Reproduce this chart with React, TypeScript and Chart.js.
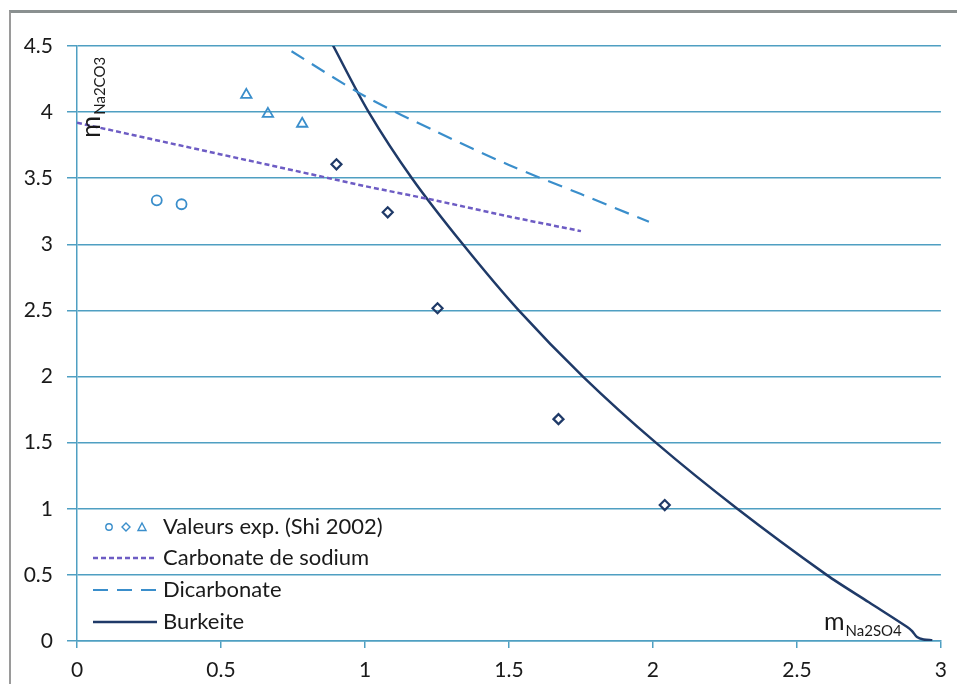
import React, { useEffect, useRef } from "react";
import { Chart, registerables } from "chart.js";

Chart.register(...registerables);

// ---- data ----
const circleX = [0.277, 0.363];
const circleY = [3.333, 3.303];
const triangleX = [0.588, 0.663, 0.782];
const triangleY = [4.13, 3.987, 3.912];
const diamondX = [0.901, 1.079, 1.252, 1.672, 2.041];
const diamondY = [3.605, 3.242, 2.517, 1.678, 1.028];

const carbonateX = [0, 0.25, 0.5, 0.75, 1.0, 1.25, 1.5, 1.75];
const carbonateY = [3.92, 3.8, 3.68, 3.56, 3.44, 3.33, 3.21, 3.1];

const dicarbonateX = [0.745, 1.0, 1.25, 1.5, 1.75, 1.986];
const dicarbonateY = [4.46, 4.12, 3.85, 3.6, 3.38, 3.17];

const burkeiteX = [0.862, 0.89, 1.013, 1.163, 1.34, 1.534, 1.757, 2.01, 2.293, 2.603, 2.75, 2.883, 2.9, 2.917, 2.94, 2.97];
const burkeiteY = [4.62, 4.5, 4.0, 3.5, 3.0, 2.5, 2.0, 1.5, 1.0, 0.5, 0.293, 0.106, 0.075, 0.03, 0.012, 0.005];

const xTicks = [0, 0.5, 1, 1.5, 2, 2.5, 3];
const yTicks = [0, 0.5, 1, 1.5, 2, 2.5, 3, 3.5, 4, 4.5];

const legendLabels = ["Valeurs exp. (Shi 2002)", "Carbonate de sodium", "Dicarbonate", "Burkeite"];

const LIGHT = "#3a8ecb";
const NAVY = "#1f3a68";
const PURPLE = "#6d5cc4";
const GRID = "#4f9fc2";
const TEXT = "#1a1a1a";
const FONT = "Lato, 'Liberation Sans', sans-serif";

const pts = (xs: number[], ys: number[]) => xs.map((x, i) => ({ x, y: ys[i] }));

const overlayPlugin = {
  id: "overlay",
  afterDraw(chart: any) {
    const ctx = chart.ctx as CanvasRenderingContext2D;
    ctx.save();
    // legend
    const lx0 = 93, lx1 = 157, tx = 163;
    const rows = [527, 558, 590, 622];
    ctx.font = `22px ${FONT}`;
    ctx.fillStyle = TEXT;
    ctx.textBaseline = "middle";
    legendLabels.forEach((t, i) => ctx.fillText(t, tx, rows[i]));
    // row 1 symbols
    ctx.lineWidth = 1.4;
    ctx.strokeStyle = LIGHT;
    ctx.beginPath();
    ctx.arc(109, rows[0], 3.2, 0, Math.PI * 2);
    ctx.stroke();
    ctx.beginPath();
    ctx.moveTo(126, rows[0] - 4);
    ctx.lineTo(130, rows[0]);
    ctx.lineTo(126, rows[0] + 4);
    ctx.lineTo(122, rows[0]);
    ctx.closePath();
    ctx.stroke();
    ctx.beginPath();
    ctx.moveTo(142, rows[0] - 4);
    ctx.lineTo(146, rows[0] + 3.5);
    ctx.lineTo(138, rows[0] + 3.5);
    ctx.closePath();
    ctx.stroke();
    // row 2
    ctx.lineWidth = 2.5;
    ctx.strokeStyle = PURPLE;
    ctx.setLineDash([5, 3]);
    ctx.beginPath();
    ctx.moveTo(lx0, rows[1]);
    ctx.lineTo(lx1, rows[1]);
    ctx.stroke();
    // row 3
    ctx.strokeStyle = LIGHT;
    ctx.lineWidth = 2.2;
    ctx.setLineDash([15, 9]);
    ctx.beginPath();
    ctx.moveTo(lx0, rows[2]);
    ctx.lineTo(lx1 + 2, rows[2]);
    ctx.stroke();
    // row 4
    ctx.setLineDash([]);
    ctx.strokeStyle = NAVY;
    ctx.lineWidth = 2.5;
    ctx.beginPath();
    ctx.moveTo(lx0, rows[3]);
    ctx.lineTo(lx1, rows[3]);
    ctx.stroke();

    // x-axis title
    ctx.fillStyle = TEXT;
    ctx.textBaseline = "alphabetic";
    ctx.font = `25px ${FONT}`;
    ctx.fillText("m", 824, 630);
    const mw = ctx.measureText("m").width;
    ctx.font = `15px ${FONT}`;
    ctx.fillText("Na2SO4", 824 + mw + 1, 636);

    // y-axis title (rotated)
    ctx.translate(100, 138);
    ctx.rotate(-Math.PI / 2);
    ctx.font = `27px ${FONT}`;
    ctx.fillText("m", 0, 0);
    const mw2 = ctx.measureText("m").width;
    ctx.font = `15px ${FONT}`;
    ctx.fillText("Na2CO3", mw2 + 1, 5);
    ctx.restore();
  },
};

export default function App() {
  const ref = useRef<HTMLCanvasElement | null>(null);
  useEffect(() => {
    if (!ref.current) return;
    const chart = new Chart(ref.current, {
      type: "scatter",
      data: {
        datasets: [
          {
            label: "Carbonate de sodium",
            data: pts(carbonateX, carbonateY),
            showLine: true,
            borderColor: PURPLE,
            borderWidth: 2.5,
            borderDash: [5, 3],
            pointRadius: 0,
            fill: false,
          },
          {
            label: "Dicarbonate",
            data: pts(dicarbonateX, dicarbonateY),
            showLine: true,
            borderColor: LIGHT,
            borderWidth: 2.2,
            borderDash: [15, 9],
            pointRadius: 0,
            tension: 0.3,
            fill: false,
          },
          {
            label: "Burkeite",
            data: pts(burkeiteX, burkeiteY),
            showLine: true,
            borderColor: NAVY,
            borderWidth: 2.5,
            pointRadius: 0,
            tension: 0.3,
            fill: false,
          },
          {
            label: "circles",
            data: pts(circleX, circleY),
            pointStyle: "circle",
            pointRadius: 5,
            borderColor: LIGHT,
            backgroundColor: "rgba(255,255,255,0)",
            borderWidth: 1.8,
          },
          {
            label: "triangles",
            data: pts(triangleX, triangleY),
            pointStyle: "triangle",
            pointRadius: 6,
            borderColor: LIGHT,
            backgroundColor: "rgba(255,255,255,0)",
            borderWidth: 1.8,
          },
          {
            label: "diamonds",
            data: pts(diamondX, diamondY),
            pointStyle: "rectRot",
            pointRadius: 5,
            borderColor: NAVY,
            backgroundColor: "rgba(255,255,255,0)",
            borderWidth: 2.2,
          },
        ],
      },
      options: {
        animation: false,
        responsive: false,
        maintainAspectRatio: false,
        layout: { padding: { left: 0, top: 46, right: 10, bottom: 0 } },
        plugins: { legend: { display: false }, tooltip: { enabled: false } },
        scales: {
          x: {
            type: "linear",
            min: 0,
            max: 3,
            afterFit: (s: any) => { s.height = 43; },
            afterBuildTicks: (s: any) => { s.ticks = xTicks.map((v) => ({ value: v })); },
            grid: { drawOnChartArea: false, drawTicks: true, tickLength: 7, color: GRID, lineWidth: 1.5 },
            border: { display: true, color: GRID, width: 1.5 },
            ticks: { color: TEXT, font: { family: FONT, size: 21 }, padding: 10, callback: (v: any) => String(v) },
          },
          y: {
            type: "linear",
            min: 0,
            max: 4.5,
            afterFit: (s: any) => { s.width = 77; },
            afterBuildTicks: (s: any) => { s.ticks = yTicks.map((v) => ({ value: v })); },
            grid: { drawOnChartArea: true, drawTicks: true, tickLength: 10, color: GRID, lineWidth: 1.5 },
            border: { display: true, color: GRID, width: 1.5 },
            ticks: { color: TEXT, font: { family: FONT, size: 21 }, padding: 14, callback: (v: any) => String(v) },
          },
        },
      },
      plugins: [overlayPlugin],
    } as any);
    return () => chart.destroy();
  }, []);

  return (
    <div style={{ position: "fixed", left: 0, top: 0, width: 957, height: 684, background: "#fff" }}>
      <div
        style={{
          position: "absolute",
          left: 9,
          top: 10,
          width: 960,
          height: 700,
          borderTop: "3px solid #8a9090",
          borderLeft: "2px solid #9a9a9a",
          boxSizing: "border-box",
        }}
      />
      <canvas ref={ref} width={957} height={684} style={{ position: "absolute", left: 0, top: 0, display: "block" }} />
    </div>
  );
}
